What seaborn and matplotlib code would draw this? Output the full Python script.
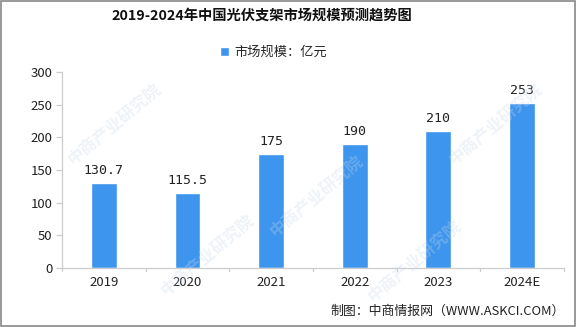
import matplotlib
matplotlib.use("Agg")
import matplotlib.pyplot as plt
import seaborn as sns
import pandas as pd
from matplotlib.patches import Rectangle

years = ["2019", "2020", "2021", "2022", "2023", "2024E"]
market_size = [130.7, 115.5, 175, 190, 210, 253]
value_labels = ["130.7", "115.5", "175", "190", "210", "253"]
y_ticks = [0, 50, 100, 150, 200, 250, 300]

sns.set_theme(style="white")
plt.rcParams["font.family"] = ["Noto Sans CJK SC", "DejaVu Sans"]

df = pd.DataFrame({"year": years, "size": market_size})

fig = plt.figure(figsize=(5.76, 3.27), dpi=100)
ax = fig.add_axes([0.1076, 0.180, 0.8715, 0.600])

bar_color = "#3d95ee"
sns.barplot(data=df, x="year", y="size", color=bar_color, width=0.31,
            saturation=1, ax=ax, label="市场规模：亿元")

for i, (v, t) in enumerate(zip(market_size, value_labels)):
    ax.text(i, v + 9, t, ha="center", va="bottom", fontsize=9.5,
            color="#222222", family=["DejaVu Sans Mono", "DejaVu Sans"])

ax.set_ylim(0, 300)
ax.set_xlim(-0.5, 5.5)
ax.set_yticks(y_ticks)
ax.set_yticklabels([str(t) for t in y_ticks], fontsize=9.5, color="#222222")
ax.set_xticks(range(len(years)))
ax.set_xticklabels(years, fontsize=9.5, color="#222222")
ax.set_xlabel("")
ax.set_ylabel("")

for s in ["top", "right"]:
    ax.spines[s].set_visible(False)
for s in ["left", "bottom"]:
    ax.spines[s].set_color("#cccccc")
    ax.spines[s].set_linewidth(0.9)

ax.tick_params(axis="y", length=4, color="#cccccc", width=0.9, pad=3, left=True)
ax.tick_params(axis="x", length=0, pad=6)
# category separators on the x-axis
for xb in [i + 0.5 for i in range(-1, len(years))]:
    ax.plot([xb, xb], [0, -5], color="#cccccc", lw=0.9, clip_on=False)

# faint watermark
wm_pos = [(0.20, 0.62), (0.55, 0.40), (0.86, 0.62), (0.36, 0.22), (0.72, 0.20)]
for (wx, wy) in wm_pos:
    fig.text(wx, wy, "中商产业研究院", rotation=40, fontsize=12, color="#c9d8ea",
             alpha=0.3, ha="center", va="center", fontweight="bold", zorder=0)

fig.text(0.455, 0.951, "2019-2024年中国光伏支架市场规模预测趋势图", ha="center",
         va="center", fontsize=10.3, fontweight="bold", color="#111111")

leg = ax.legend(loc="center", bbox_to_anchor=(0.475, 0.84), bbox_transform=fig.transFigure,
                frameon=False, fontsize=9.5, handlelength=0.7, handleheight=0.7,
                handletextpad=0.4)

fig.text(0.981, 0.048, "制图：中商情报网（WWW.ASKCI.COM）", ha="right", va="center",
         fontsize=9.3, color="#222222")

fig.patches.append(Rectangle((0.001, 0.002), 0.997, 0.996, transform=fig.transFigure,
                             fill=False, edgecolor="#888888", lw=1.2))

fig.savefig("out.png", dpi=100)
